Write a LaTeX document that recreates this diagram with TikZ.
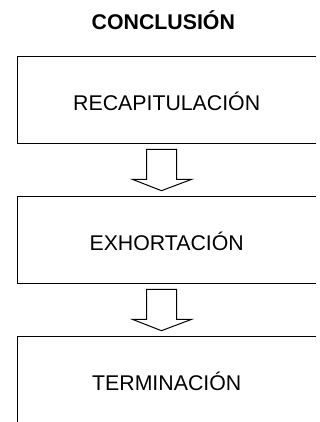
\documentclass[tikz,border=0pt]{standalone}
\usepackage{fontspec}
\setmainfont{Liberation Sans}
\begin{document}
\begin{tikzpicture}[x=1pt,y=1pt,
  lbl/.style={font=\fontsize{21.3}{25}\selectfont, inner sep=0pt},
  boxline/.style={line width=1.2pt, black},
  blockarrow/.style={line width=1pt, black, fill=white, line join=miter}]
\useasboundingbox (0,0) rectangle (320,422);
\clip (0,0) rectangle (320,422);
% title
\node[lbl, font=\fontsize{21.3}{25}\selectfont\bfseries] (title) at (163.3,402) {CONCLUSIÓN};
% box frames (right side lies outside the picture)
\coordinate (b1nw) at (17.5,365.3); \coordinate (b1sw) at (17.5,278.7);
\coordinate (b2nw) at (17.5,225.3); \coordinate (b2sw) at (17.5,138.7);
\coordinate (b3nw) at (17.5,85.3);  \coordinate (b3sw) at (17.5,-2);
\draw[boxline] (316,365.3) -- (b1nw) -- (b1sw) -- (316,278.7);
\draw[boxline] (316,225.3) -- (b2nw) -- (b2sw) -- (316,138.7);
\draw[boxline] (316,85.3) -- (b3nw) -- (b3sw);
\node[lbl] (recap) at (166.7,320.5) {RECAPITULACIÓN};
\node[lbl] (exhort) at (166.7,180.5) {EXHORTACIÓN};
\node[lbl] (termin) at (166.7,40.5) {TERMINACIÓN};
% block arrows
\foreach \dy/\nm in {0/a1,140/a2}{
  \draw[blockarrow] (146.7,272.7-\dy) -- (176.7,272.7-\dy) -- (176.7,242.7-\dy)
    -- (191.7,242.7-\dy) -- (161.5,231.3-\dy) -- (132.3,242.7-\dy)
    -- (146.7,242.7-\dy) -- cycle;
}
\end{tikzpicture}
\end{document}
